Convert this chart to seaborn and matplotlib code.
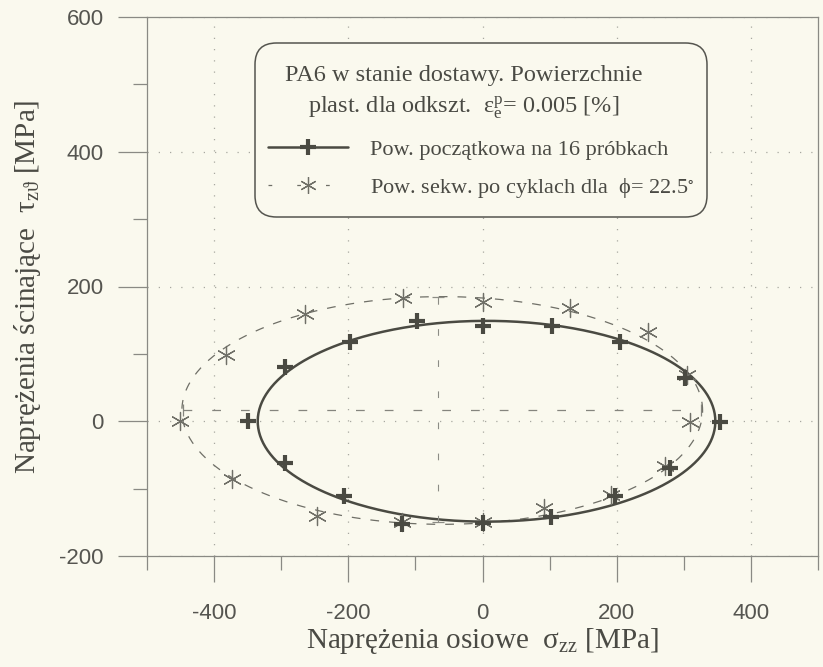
import numpy as np
import pandas as pd
import matplotlib
matplotlib.use("Agg")
import matplotlib.pyplot as plt
import seaborn as sns
from matplotlib.lines import Line2D
from matplotlib.patches import FancyBboxPatch

# ---- data ----
plus_x = [354, 302, 205, 104, 0, -97, -198, -294, -350, -294, -207, -120, 0, 102, 198, 279]
plus_y = [-1, 64, 118, 141, 142, 149, 117, 81, 0, -62, -111, -152, -151, -142, -111, -69]

star_x = [309, 305, 247, 130, 0, -118, -265, -383, -451, -373, -247, -120, 0, 92, 191, 272]
star_y = [-1, 68, 132, 168, 177, 183, 159, 98, 0, -86, -141, -150, -150, -129, -110, -67]

# fitted ellipses (center x, center y, semi-axis a, semi-axis b)
ell1 = dict(cx=6, cy=0, a=341, b=149)
ell2 = dict(cx=-60, cy=16, a=388, b=169)
# axes of second ellipse
ax2_h = dict(x0=-447, x1=326, y=17)
ax2_v = dict(x=-67, y0=-150, y1=184)

xticks = [-400, -200, 0, 200, 400]
yticks = [-200, 0, 200, 400, 600]

label1 = "Pow. początkowa na 16 próbkach"
label2 = r"Pow. sekw. po cyklach dla  $\phi$= 22.5$^{\circ}$"
title1 = "PA6 w stanie dostawy. Powierzchnie"
title2 = r"plast. dla odkszt.  $\varepsilon_e^p$= 0.005 [%]"
xlabel = r"Naprężenia osiowe  $\sigma_{zz}$ [MPa]"
ylabel = r"Naprężenia ścinające  $\tau_{z\vartheta}$ [MPa]"

# ---- style ----
sns.set_theme(style="ticks")
plt.rcParams["font.family"] = ["Liberation Serif", "DejaVu Serif"]
plt.rcParams["mathtext.fontset"] = "stix"
plt.rcParams["mathtext.default"] = "regular"

BG = "#FAF9EE"
DARK = "#4a4a42"
MID = "#6f6f67"
AXC = "#8a8a84"
TXT = "#4a4a44"

fig = plt.figure(figsize=(8.23, 6.67), dpi=100, facecolor=BG)
ax = fig.add_axes([147 / 823, 1 - 556 / 667, (818 - 147) / 823, (556 - 17) / 667])
ax.set_facecolor(BG)

t = np.linspace(0, 2 * np.pi, 500)
e1 = pd.DataFrame({"x": ell1["cx"] + ell1["a"] * np.cos(t), "y": ell1["cy"] + ell1["b"] * np.sin(t)})
e2 = pd.DataFrame({"x": ell2["cx"] + ell2["a"] * np.cos(t), "y": ell2["cy"] + ell2["b"] * np.sin(t)})

sns.lineplot(data=e2, x="x", y="y", sort=False, estimator=None, ax=ax,
             color=MID, lw=0.9, linestyle=(0, (7, 8)))
sns.lineplot(data=e1, x="x", y="y", sort=False, estimator=None, ax=ax,
             color=DARK, lw=1.8)

# axes of the second ellipse
ax.plot([ax2_h["x0"], ax2_h["x1"]], [ax2_h["y"], ax2_h["y"]], color="#85857e", lw=0.9,
        linestyle=(0, (7, 16)), marker="|", markevery=[0, 1], ms=9, mew=0.9)
ax.plot([ax2_v["x"], ax2_v["x"]], [ax2_v["y0"], ax2_v["y1"]], color="#8c8c85", lw=0.8,
        linestyle=(0, (6, 22)), marker="_", markevery=[0, 1], ms=9, mew=0.9)

sns.scatterplot(x=star_x, y=star_y, ax=ax, marker=(6, 2, 0), s=170, color=MID,
                linewidth=0.9, zorder=5)
sns.scatterplot(x=plus_x, y=plus_y, ax=ax, marker="+", s=130, color=DARK,
                linewidth=3.0, zorder=6)

ax.set_xlim(-500, 500)
ax.set_ylim(-200, 600)
ax.set_xticks(xticks)
ax.set_yticks(yticks)
ax.set_xticks(np.arange(-500, 501, 100), minor=True)
ax.set_yticks(np.arange(-200, 601, 100), minor=True)
ax.set_xticklabels([str(v) for v in xticks])
ax.set_yticklabels([str(v) for v in yticks])
for lab in ax.get_xticklabels() + ax.get_yticklabels():
    lab.set_fontfamily("Liberation Sans")
    lab.set_fontsize(16)
    lab.set_color("#555550")

ax.tick_params(axis="x", which="major", direction="out", length=19, width=0.9, color=AXC, pad=15)
ax.tick_params(axis="x", which="minor", direction="out", length=10, width=0.9, color=AXC)
ax.tick_params(axis="y", which="major", direction="out", length=21, width=0.9, color=AXC, pad=10)
ax.tick_params(axis="y", which="minor", direction="out", length=10, width=0.9, color=AXC)

ax.grid(True, which="major", color="#a8a8a0", lw=0.9, linestyle=(0, (1, 8)))
for sp in ax.spines.values():
    sp.set_color(AXC)
    sp.set_linewidth(0.9)

ax.set_xlabel(xlabel, fontsize=21, color=TXT, labelpad=1)
ax.set_ylabel(ylabel, fontsize=21, color=TXT, labelpad=12)

# ---- legend box ----
axw, axh = 671.0, 539.0
bx0, bx1 = (255 - 147) / axw, (707 - 147) / axw
by1, by0 = 1 - (43 - 17) / axh, 1 - (217 - 17) / axh
box = FancyBboxPatch((bx0, by0), bx1 - bx0, by1 - by0, transform=ax.transAxes,
                     boxstyle="round,pad=0,rounding_size=0.032", mutation_aspect=axw / axh,
                     facecolor=BG, edgecolor="#55554f", lw=1.1, zorder=8)
ax.add_patch(box)
cxm = (464 - 147) / axw
ax.text(cxm, 1 - (75 - 17) / axh, title1, transform=ax.transAxes, ha="center", va="center",
        fontsize=17.5, color=TXT, zorder=9)
ax.text(cxm, 1 - (108 - 17) / axh, title2, transform=ax.transAxes, ha="center", va="center",
        fontsize=17.5, color=TXT, zorder=9)

h1 = Line2D([], [], color=DARK, lw=1.8, marker="+", ms=11, mew=3.0)
h2 = Line2D([], [], color=MID, lw=0.9, linestyle=(0, (3, 20)), marker=(6, 2, 0), ms=12, mew=0.9)
leg = ax.legend([h1, h2], [label1, label2], loc="upper left",
                bbox_to_anchor=((268 - 147) / axw, 1 - (139 - 17) / axh),
                frameon=False, fontsize=16, handlelength=3.6, handletextpad=1.0,
                labelspacing=0.75, numpoints=1, borderaxespad=0, borderpad=0)
for txt in leg.get_texts():
    txt.set_color(TXT)
leg.set_zorder(10)

fig.savefig("out.png", dpi=100, facecolor=BG)
